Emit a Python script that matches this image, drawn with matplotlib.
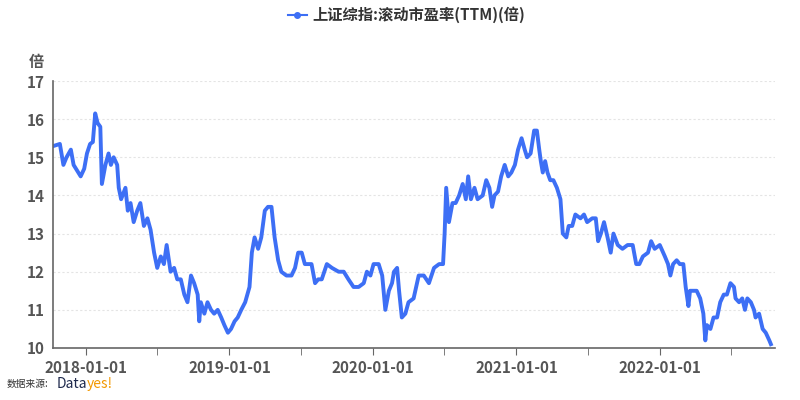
import pandas as pd
from matplotlib import pyplot as plt

plt.rcParams['font.family'] = ['Noto Sans CJK SC', 'DejaVu Sans']

dates = [
    "2017-10-11", "2017-10-26", "2017-11-04", "2017-11-12", "2017-11-23", "2017-11-30",
    "2017-12-12", "2017-12-18", "2017-12-27", "2018-01-03", "2018-01-11", "2018-01-18",
    "2018-01-24", "2018-01-30", "2018-02-06", "2018-02-10", "2018-02-19", "2018-02-27",
    "2018-03-05", "2018-03-12", "2018-03-21", "2018-03-25", "2018-03-31", "2018-04-11",
    "2018-04-17", "2018-04-24", "2018-05-02", "2018-05-11", "2018-05-19", "2018-05-28",
    "2018-06-06", "2018-06-14", "2018-06-23", "2018-07-01", "2018-07-10", "2018-07-18",
    "2018-07-25", "2018-08-04", "2018-08-13", "2018-08-21", "2018-08-30", "2018-09-08",
    "2018-09-16", "2018-09-25", "2018-10-03", "2018-10-12", "2018-10-16", "2018-10-20",
    "2018-10-29", "2018-11-06", "2018-11-15", "2018-11-23", "2018-12-02", "2018-12-11",
    "2018-12-19", "2018-12-28", "2019-01-05", "2019-01-14", "2019-01-22", "2019-01-31",
    "2019-02-10", "2019-02-21", "2019-02-27", "2019-03-06", "2019-03-15", "2019-03-23",
    "2019-04-01", "2019-04-09", "2019-04-18", "2019-04-26", "2019-05-05", "2019-05-13",
    "2019-05-26", "2019-06-08", "2019-06-17", "2019-06-25", "2019-07-04", "2019-07-12",
    "2019-07-21", "2019-07-29", "2019-08-07", "2019-08-15", "2019-08-24", "2019-09-06",
    "2019-09-19", "2019-10-06", "2019-10-19", "2019-10-31", "2019-11-13", "2019-11-26",
    "2019-12-09", "2019-12-17", "2019-12-26", "2020-01-03", "2020-01-16", "2020-01-25",
    "2020-02-02", "2020-02-11", "2020-02-19", "2020-02-24", "2020-03-03", "2020-03-08",
    "2020-03-15", "2020-03-24", "2020-04-01", "2020-04-14", "2020-04-27", "2020-05-10",
    "2020-05-23", "2020-06-05", "2020-06-18", "2020-06-28", "2020-07-02", "2020-07-06",
    "2020-07-13", "2020-07-22", "2020-07-30", "2020-08-08", "2020-08-17", "2020-08-25",
    "2020-08-31", "2020-09-07", "2020-09-16", "2020-09-24", "2020-10-07", "2020-10-16",
    "2020-10-24", "2020-10-31", "2020-11-06", "2020-11-15", "2020-11-23", "2020-12-02",
    "2020-12-11", "2020-12-19", "2020-12-28", "2021-01-05", "2021-01-14", "2021-01-22",
    "2021-01-28", "2021-02-06", "2021-02-15", "2021-02-22", "2021-02-28", "2021-03-04",
    "2021-03-09", "2021-03-15", "2021-03-21", "2021-03-28", "2021-04-05", "2021-04-14",
    "2021-04-23", "2021-04-29", "2021-05-08", "2021-05-14", "2021-05-23", "2021-05-31",
    "2021-06-13", "2021-06-22", "2021-06-30", "2021-07-13", "2021-07-22", "2021-07-28",
    "2021-08-04", "2021-08-12", "2021-08-21", "2021-08-29", "2021-09-05", "2021-09-16",
    "2021-09-28", "2021-10-11", "2021-10-24", "2021-11-02", "2021-11-10", "2021-11-19",
    "2021-12-02", "2021-12-10", "2021-12-19", "2022-01-01", "2022-01-14", "2022-01-22",
    "2022-01-28", "2022-02-04", "2022-02-13", "2022-02-21", "2022-03-02", "2022-03-08",
    "2022-03-15", "2022-03-19", "2022-03-28", "2022-04-05", "2022-04-14", "2022-04-22",
    "2022-04-27", "2022-05-01", "2022-05-10", "2022-05-18", "2022-05-27", "2022-06-04",
    "2022-06-13", "2022-06-21", "2022-06-30", "2022-07-09", "2022-07-13", "2022-07-22",
    "2022-07-30", "2022-08-06", "2022-08-12", "2022-08-21", "2022-08-29", "2022-09-02",
    "2022-09-11", "2022-09-20", "2022-09-28", "2022-10-07", "2022-10-11",
]
pe_ttm = [
    15.3, 15.35, 14.8, 15.0, 15.2, 14.8,
    14.6, 14.5, 14.7, 15.1, 15.35, 15.4,
    16.15, 15.9, 15.8, 14.3, 14.8, 15.1,
    14.8, 15.0, 14.8, 14.2, 13.9, 14.2,
    13.6, 13.8, 13.3, 13.6, 13.8, 13.2,
    13.4, 13.1, 12.5, 12.1, 12.4, 12.2,
    12.7, 12.0, 12.1, 11.8, 11.8, 11.4,
    11.2, 11.9, 11.7, 11.4, 10.7, 11.2,
    10.9, 11.2, 11.0, 10.9, 11.0, 10.8,
    10.6, 10.4, 10.5, 10.7, 10.8, 11.0,
    11.2, 11.6, 12.5, 12.9, 12.6, 12.9,
    13.6, 13.7, 13.7, 12.9, 12.3, 12.0,
    11.9, 11.9, 12.1, 12.5, 12.5, 12.2,
    12.2, 12.2, 11.7, 11.8, 11.8, 12.2,
    12.1, 12.0, 12.0, 11.8, 11.6, 11.6,
    11.7, 12.0, 11.9, 12.2, 12.2, 11.9,
    11.0, 11.5, 11.7, 12.0, 12.1, 11.5,
    10.8, 10.9, 11.2, 11.3, 11.9, 11.9,
    11.7, 12.1, 12.2, 12.2, 13.0, 14.2,
    13.3, 13.8, 13.8, 14.0, 14.3, 13.9,
    14.5, 13.9, 14.2, 13.9, 14.0, 14.4,
    14.2, 13.7, 14.0, 14.1, 14.5, 14.8,
    14.5, 14.6, 14.8, 15.2, 15.5, 15.2,
    15.0, 15.1, 15.7, 15.7, 15.2, 14.9,
    14.6, 14.9, 14.6, 14.4, 14.4, 14.2,
    13.9, 13.0, 12.9, 13.2, 13.2, 13.5,
    13.4, 13.5, 13.3, 13.4, 13.4, 12.8,
    13.0, 13.3, 12.9, 12.5, 13.0, 12.7,
    12.6, 12.7, 12.7, 12.2, 12.2, 12.4,
    12.5, 12.8, 12.6, 12.7, 12.4, 12.2,
    11.9, 12.2, 12.3, 12.2, 12.2, 11.6,
    11.1, 11.5, 11.5, 11.5, 11.3, 10.9,
    10.2, 10.6, 10.5, 10.8, 10.8, 11.2,
    11.4, 11.4, 11.7, 11.6, 11.3, 11.2,
    11.3, 11.0, 11.3, 11.2, 11.0, 10.8,
    10.9, 10.5, 10.4, 10.2, 10.1,
]
series_name = "上证综指:滚动市盈率(TTM)(倍)"
tick_labels = ["2018-01-01", "2019-01-01", "2020-01-01", "2021-01-01", "2022-01-01"]

x = pd.to_datetime(dates)
line_color = '#3d6ff5'
text_color = '#555555'

fig = plt.figure(figsize=(8, 4), dpi=100)
ax = fig.add_axes([0.066, 0.13, 0.903, 0.6675])
ax.plot(x, pe_ttm, color=line_color, linewidth=2.8, solid_joinstyle='round')

ax.set_xlim(pd.Timestamp("2017-10-08"), pd.Timestamp("2022-10-22"))
ax.set_ylim(10, 17)
ax.set_yticks(range(10, 18))
ax.set_xticks(pd.to_datetime(tick_labels))
ax.set_xticklabels(tick_labels)
ax.set_xticks(pd.to_datetime(["2018-07-01", "2019-07-01", "2020-07-01",
                              "2021-07-01", "2022-07-01"]), minor=True)
ax.tick_params(axis='x', which='both', length=5, color='#666666',
               labelsize=11, labelcolor=text_color)
ax.tick_params(axis='y', length=0, labelsize=11, labelcolor=text_color, pad=6)
for lbl in ax.get_xticklabels() + ax.get_yticklabels():
    lbl.set_fontweight('bold')

ax.grid(axis='y', color='#e4e4e4', linestyle=(0, (2, 2)), linewidth=0.8)
for s in ['top', 'right']:
    ax.spines[s].set_visible(False)
for s in ['left', 'bottom']:
    ax.spines[s].set_color('#666666')
    ax.spines[s].set_linewidth(1.2)

ax.text(-0.012, 1.04, "倍", transform=ax.transAxes, ha='right', va='bottom',
        fontsize=11, fontweight='bold', color=text_color)

leg = ax.legend([ax.lines[0]], [series_name], loc='upper center',
                bbox_to_anchor=(0.49, 1.33), frameon=False, fontsize=11,
                handlelength=1.2, handletextpad=0.4)
leg.get_lines()[0].set_marker('o')
leg.get_lines()[0].set_markersize(4)
leg.get_lines()[0].set_linewidth(1.5)
for t in leg.get_texts():
    t.set_fontweight('bold')
    t.set_color('#333333')

fig.text(0.008, 0.028, "数据来源:", fontsize=7, color='#333333', va='bottom')
fig.text(0.071, 0.022, "Data", fontsize=10, color='#1f2a4d', va='bottom')
fig.text(0.109, 0.022, "yes!", fontsize=10, color='#f39800', va='bottom')

fig.savefig("out.png", dpi=100)
